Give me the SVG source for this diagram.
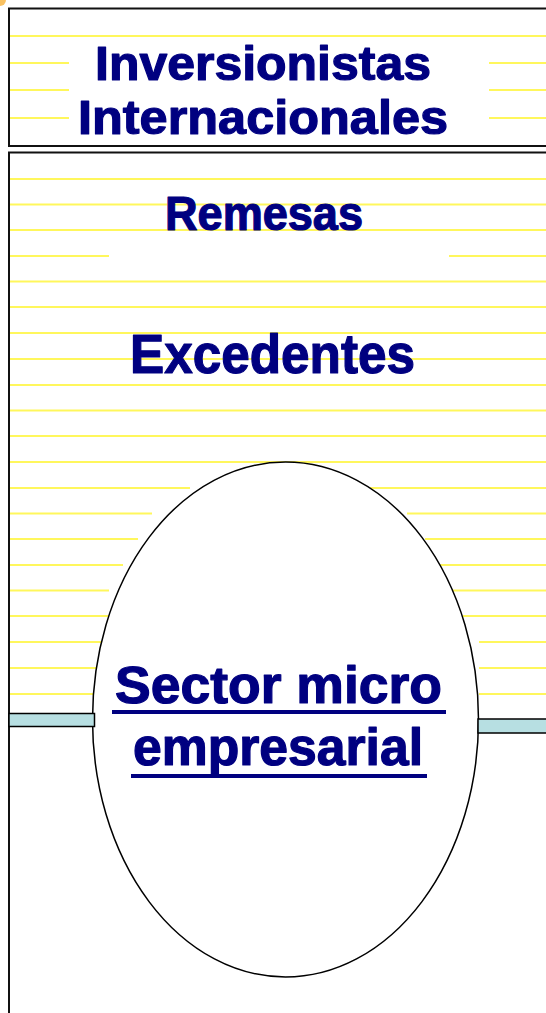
<svg xmlns="http://www.w3.org/2000/svg" width="546" height="1013" viewBox="0 0 546 1013">
<style>
.box{fill:none;stroke:#111;stroke-width:2}
.rule{stroke:#fff75c;stroke-width:2;fill:none}
.lbl{font-family:"Liberation Sans",Arial,sans-serif;font-weight:bold;fill:#000080;stroke:#000080;stroke-width:1.2;stroke-linejoin:round}
.ul{fill:#000080}
.bar{fill:#b7dfe2;stroke:#000;stroke-width:1.5}
.oval{fill:#fff;stroke:#000;stroke-width:1.5}
</style>
<rect width="546" height="1013" fill="#fff"/>
<circle cx="0" cy="0" r="6" fill="#f7b23a" opacity="0.8"/>

<g id="rules">
<path class="rule" d="M10 36H546M10 63H69M489 63H546M10 90H69M489 90H546M10 118H69M489 118H546"/>
<path class="rule" d="M10 179H546M10 204.5H546M10 230H546M10 256H109M449 256H546M10 281.5H546M10 307H546M10 333H546M10 359H546M10 385H546M10 410.5H546M10 436H546M10 462H546"/>
<path class="rule" d="M10 488H190M364 488H546M10 513.5H152M407 513.5H546M10 539H138M425 539H546M10 565H123M435 565H546M10 590.5H109M449 590.5H546M10 616H109M463 616H546M10 642H109M479 642H546M10 668H109M479 668H546M10 694H94M479 694H546"/>
</g>

<g id="node-inversionistas">
<rect class="box" x="9" y="8.5" width="545" height="137.5"/>
<text class="lbl" x="95" y="80" font-size="48" textLength="336" lengthAdjust="spacingAndGlyphs">Inversionistas</text>
<text class="lbl" x="78" y="133.5" font-size="48" textLength="370" lengthAdjust="spacingAndGlyphs">Internacionales</text>
</g>

<g id="node-flujos">
<rect class="box" x="9" y="152.5" width="545" height="870"/>
<text class="lbl" x="165" y="230" font-size="48" textLength="198" lengthAdjust="spacingAndGlyphs">Remesas</text>
<text class="lbl" x="130" y="373" font-size="55" textLength="285" lengthAdjust="spacingAndGlyphs">Excedentes</text>
</g>

<g id="node-sector">
<ellipse class="oval" cx="285.5" cy="719.5" rx="193" ry="257.5"/>
<text class="lbl" x="115" y="703" font-size="51" textLength="327" lengthAdjust="spacingAndGlyphs">Sector micro</text>
<rect class="ul" x="112" y="710" width="334" height="4"/>
<text class="lbl" x="133" y="765" font-size="51" textLength="290" lengthAdjust="spacingAndGlyphs">empresarial</text>
<rect class="ul" x="131" y="774" width="296" height="4"/>
</g>

<g id="connectors">
<rect class="bar" x="9" y="713.5" width="85.5" height="13"/>
<rect class="bar" x="478" y="719" width="70" height="14"/>
</g>
</svg>
